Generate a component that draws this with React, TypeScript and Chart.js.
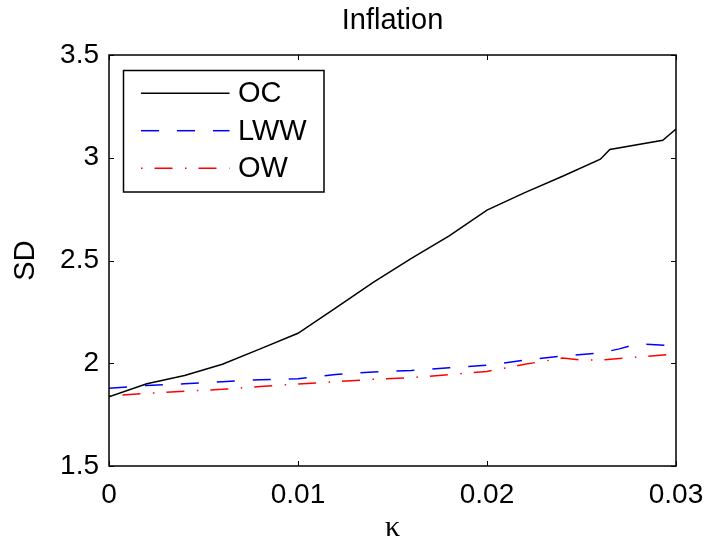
import React, { useEffect, useRef } from "react";
import { Chart, registerables } from "chart.js";
Chart.register(...registerables);

const titleText = "Inflation";
const xTitle = "κ";
const yTitle = "SD";

const xTicks = [0, 0.01, 0.02, 0.03];
const xTickLabels = ["0", "0.01", "0.02", "0.03"];
const yTicks = [1.5, 2, 2.5, 3, 3.5];
const yTickLabels = ["1.5", "2", "2.5", "3", "3.5"];

const seriesNames = ["OC", "LWW", "OW"];

const ocKappa = [0, 0.002, 0.004, 0.006, 0.008, 0.01, 0.012, 0.014, 0.016, 0.018, 0.02, 0.022, 0.024, 0.026, 0.0265, 0.0293, 0.03];
const ocSD = [1.837, 1.9, 1.94, 1.995, 2.07, 2.146, 2.27, 2.395, 2.51, 2.62, 2.745, 2.83, 2.91, 2.993, 3.04, 3.085, 3.14];

const lwwKappa = [0, 0.002, 0.004, 0.006, 0.008, 0.01, 0.012, 0.014, 0.016, 0.018, 0.02, 0.022, 0.024, 0.026, 0.027, 0.028, 0.03];
const lwwSD = [1.878, 1.892, 1.9, 1.91, 1.92, 1.925, 1.945, 1.958, 1.965, 1.978, 1.99, 2.015, 2.035, 2.05, 2.07, 2.095, 2.085];

const owKappa = [0, 0.002, 0.004, 0.006, 0.008, 0.01, 0.012, 0.014, 0.016, 0.018, 0.02, 0.022, 0.024, 0.025, 0.026, 0.028, 0.03];
const owSD = [1.842, 1.853, 1.864, 1.873, 1.887, 1.899, 1.91, 1.922, 1.93, 1.945, 1.96, 1.995, 2.025, 2.016, 2.016, 2.03, 2.045];

const FONT = '"Liberation Sans", Arial, Helvetica, sans-serif';

const colors = ["#000000", "#0000ff", "#ff0000"];
const dashes: number[][] = [[], [18, 18], [1.5, 12, 18, 12.5]];

const framePlugin = {
  id: "frame",
  afterDraw(chart: any) {
    const ctx = chart.ctx as CanvasRenderingContext2D;
    const a = chart.chartArea;
    const xs = chart.scales.x;
    const ys = chart.scales.y;
    ctx.save();
    ctx.strokeStyle = "#000";
    ctx.lineWidth = 1.5;
    ctx.setLineDash([]);
    ctx.strokeRect(a.left, a.top, a.right - a.left, a.bottom - a.top);
    ctx.lineWidth = 1;
    const tl = 5;
    ctx.beginPath();
    for (const v of xTicks) {
      const px = Math.round(xs.getPixelForValue(v)) + 0.5;
      ctx.moveTo(px, a.bottom);
      ctx.lineTo(px, a.bottom - tl);
      ctx.moveTo(px, a.top);
      ctx.lineTo(px, a.top + tl);
    }
    for (const v of yTicks) {
      const py = Math.round(ys.getPixelForValue(v)) + 0.5;
      ctx.moveTo(a.left, py);
      ctx.lineTo(a.left + tl, py);
      ctx.moveTo(a.right, py);
      ctx.lineTo(a.right - tl, py);
    }
    ctx.stroke();

    const cx = (a.left + a.right) / 2;
    const cy = (a.top + a.bottom) / 2;
    ctx.fillStyle = "#000";
    ctx.textAlign = "center";
    ctx.textBaseline = "middle";
    ctx.font = `29px ${FONT}`;
    ctx.fillText(titleText, cx, 21);

    ctx.font = `30px "Liberation Serif", "DejaVu Serif", serif`;
    ctx.fillText(xTitle, cx, 528);

    ctx.save();
    ctx.translate(26, cy);
    ctx.rotate(-Math.PI / 2);
    ctx.font = `29px ${FONT}`;
    ctx.fillText(yTitle, 0, 0);
    ctx.restore();

    // legend
    const lx = 123.5, ly = 70.5, lw = 200.5, lh = 121.5;
    ctx.fillStyle = "#fff";
    ctx.fillRect(lx, ly, lw, lh);
    ctx.strokeStyle = "#000";
    ctx.lineWidth = 1.5;
    ctx.strokeRect(lx, ly, lw, lh);
    const rows = [93.3, 130.7, 168.3];
    for (let i = 0; i < seriesNames.length; i++) {
      ctx.strokeStyle = colors[i];
      ctx.lineWidth = 1.5;
      ctx.setLineDash(dashes[i]);
      ctx.beginPath();
      ctx.moveTo(141, rows[i]);
      ctx.lineTo(229.5, rows[i]);
      ctx.stroke();
      ctx.setLineDash([]);
      ctx.fillStyle = "#000";
      ctx.textAlign = "left";
      ctx.textBaseline = "middle";
      ctx.font = `29px ${FONT}`;
      ctx.fillText(seriesNames[i], 238, rows[i] + 1);
    }
    ctx.restore();
  },
};

export default function App() {
  const ref = useRef<HTMLCanvasElement>(null);
  useEffect(() => {
    const canvas = ref.current!;
    const mk = (xs: number[], ys: number[]) => xs.map((x, i) => ({ x, y: ys[i] }));
    const sets = [mk(ocKappa, ocSD), mk(lwwKappa, lwwSD), mk(owKappa, owSD)];
    const chart = new Chart(canvas, {
      type: "line",
      data: {
        datasets: sets.map((d, i) => ({
          label: seriesNames[i],
          data: d,
          borderColor: colors[i],
          backgroundColor: colors[i],
          borderWidth: 1.5,
          borderDash: dashes[i],
          pointRadius: 0,
          tension: 0,
          fill: false,
        })),
      },
      options: {
        responsive: false,
        maintainAspectRatio: false,
        animation: false,
        layout: { padding: { top: 55, right: 33, left: 0, bottom: 0 } },
        plugins: {
          legend: { display: false },
          title: { display: false },
          tooltip: { enabled: false },
        },
        scales: {
          x: {
            type: "linear",
            min: 0,
            max: 0.03,
            afterBuildTicks: (s: any) => {
              s.ticks = xTicks.map((v) => ({ value: v }));
            },
            afterFit: (s: any) => {
              s.height = 80;
              s.paddingLeft = 0;
              s.paddingRight = 0;
            },
            grid: { display: false, drawTicks: false },
            border: { display: false },
            ticks: {
              callback: (_v: any, i: number) => xTickLabels[i],
              font: { size: 28, family: FONT },
              color: "#000",
              padding: 12,
              maxRotation: 0,
              autoSkip: false,
            },
          },
          y: {
            type: "linear",
            min: 1.5,
            max: 3.5,
            afterBuildTicks: (s: any) => {
              s.ticks = yTicks.map((v) => ({ value: v }));
            },
            afterFit: (s: any) => {
              s.width = 109;
              s.paddingTop = 0;
              s.paddingBottom = 0;
            },
            grid: { display: false, drawTicks: false },
            border: { display: false },
            ticks: {
              callback: (_v: any, i: number) => yTickLabels[i],
              font: { size: 28, family: FONT },
              color: "#000",
              padding: 10,
              autoSkip: false,
            },
          },
        },
      },
      plugins: [framePlugin],
    });
    return () => chart.destroy();
  }, []);
  return (
    <div style={{ position: "absolute", left: 0, top: 0, width: 709, height: 546, background: "#fff" }}>
      <canvas ref={ref} width={709} height={546} style={{ display: "block" }} />
    </div>
  );
}
